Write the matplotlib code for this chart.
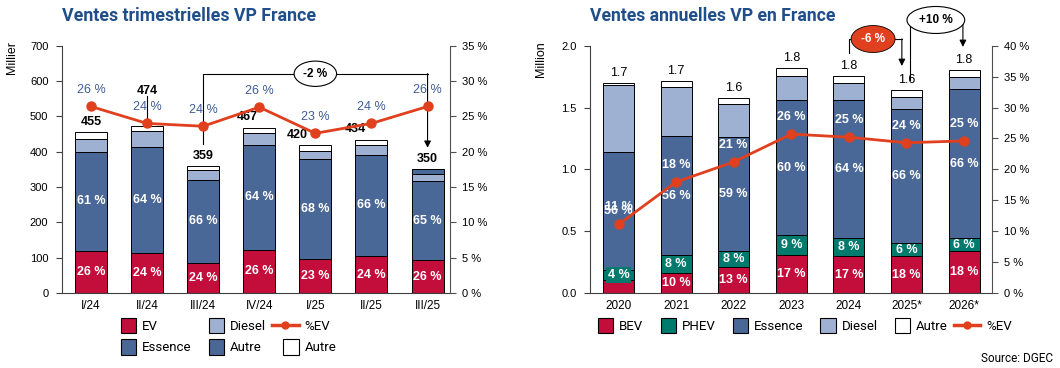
import matplotlib
matplotlib.use('Agg')
import matplotlib.pyplot as plt
import matplotlib.patches as mpatches
from matplotlib.lines import Line2D
from matplotlib.legend_handler import HandlerPatch
from matplotlib.ticker import FuncFormatter
import numpy as np

# --- données trimestrielles (milliers)
quarters = ['I/24', 'II/24', 'III/24', 'IV/24', 'I/25', 'II/25', 'III/25']
q_ev = [120, 114, 84, 123, 95, 104, 92]
q_essence = [280, 300, 237, 297, 285, 288, 226]
q_diesel = [37, 45, 26, 34, 23, 27, 20]
q_autre_bleu = [0, 0, 0, 0, 0, 0, 12]
q_autre = [18, 15, 12, 13, 17, 15, 0]
q_total = [455, 474, 359, 467, 420, 434, 350]
q_ev_pct = [26, 24, 24, 26, 23, 24, 26]
q_ess_pct = [61, 64, 66, 64, 68, 66, 65]
q_share = [26.4, 24.0, 23.6, 26.3, 22.6, 24.0, 26.4]
q_share_lbl = [26, 24, 24, 26, 23, 24, 26]

# --- données annuelles (millions)
years = ['2020', '2021', '2022', '2023', '2024', '2025*', '2026*']
y_bev = [0.105, 0.164, 0.208, 0.305, 0.299, 0.297, 0.337]
y_phev = [0.080, 0.141, 0.129, 0.162, 0.143, 0.105, 0.105]
y_essence = [0.953, 0.965, 0.922, 1.091, 1.116, 1.088, 1.205]
y_diesel = [0.542, 0.393, 0.267, 0.197, 0.138, 0.093, 0.097]
y_autre = [0.016, 0.049, 0.049, 0.062, 0.059, 0.056, 0.062]
y_total_lbl = ['1.7', '1.7', '1.6', '1.8', '1.8', '1.6', '1.8']
y_bev_pct = [None, 10, 13, 17, 17, 18, 18]
y_phev_pct = [4, 8, 8, 9, 8, 6, 6]
y_ess_pct = [56, 56, 59, 60, 64, 66, 66]
y_share = [11.1, 17.95, 21.2, 25.7, 25.2, 24.3, 24.6]
y_share_lbl = [11, 18, 21, 26, 25, 24, 25]

# couleurs
RED = '#C30D3B'
BLUE = '#4A6897'
LBLUE = '#9EB1D2'
TEAL = '#007A6C'
LINE = '#E0401E'
TITLE = '#1F4E8A'
TXTBLUE = '#3E5C96'

plt.rcParams['font.family'] = ['Liberation Sans', 'DejaVu Sans']
LEGFONT = ['Roboto', 'DejaVu Sans']

fig = plt.figure(figsize=(10.6, 3.68), dpi=100)
axL = fig.add_axes([62.3/1060, 75/368, 387.7/1060, 247.3/368])
axR = fig.add_axes([590.3/1060, 75/368, 401.4/1060, 247.3/368])

pct_fmt = FuncFormatter(lambda v, p: '%d %%' % v)


def style_axes(ax, ax2):
    for s in ['top', 'right']:
        ax.spines[s].set_visible(False)
    for s in ['top', 'left', 'bottom']:
        ax2.spines[s].set_visible(False)
    ax.spines['left'].set_color('#404040')
    ax.spines['bottom'].set_color('#404040')
    ax2.spines['right'].set_color('#505050')
    ax.tick_params(axis='x', length=0, pad=5, labelsize=8.5)
    ax.tick_params(axis='y', length=4, pad=6, labelsize=8, color='#404040')
    ax2.tick_params(axis='y', length=4, pad=5, labelsize=8, color='#505050')
    ax2.yaxis.set_major_formatter(pct_fmt)


# ================= gauche : trimestriel =================
x = np.arange(len(quarters))
w = 0.57
ax = axL
b = np.zeros(len(x))
for vals, col in [(q_ev, RED), (q_essence, BLUE), (q_diesel, LBLUE),
                  (q_autre_bleu, BLUE), (q_autre, 'white')]:
    ax.bar(x, vals, w, bottom=b, color=col, edgecolor='black', linewidth=0.7, zorder=2)
    b = b + np.array(vals)

ev_arr = np.array(q_ev)
ess_arr = np.array(q_essence)
for i in range(len(x)):
    ax.text(x[i], ev_arr[i] / 2, '%d %%' % q_ev_pct[i], ha='center', va='center',
            color='white', fontsize=9, fontweight='bold', zorder=3)
    ax.text(x[i], ev_arr[i] + ess_arr[i] / 2, '%d %%' % q_ess_pct[i], ha='center', va='center',
            color='white', fontsize=9, fontweight='bold', zorder=3)

# étiquettes des totaux (décalages en pixels)
tot_off = [(0, 10), (0, 35), (0, 10), (-12, 11), (-18, 10), (-16, 11), (0, 10)]
for i in range(len(x)):
    ax.annotate(str(q_total[i]), (x[i], q_total[i]), xytext=tot_off[i], textcoords='offset pixels',
                ha='center', va='center', fontsize=9, fontweight='bold', zorder=5)

ax.plot([1, 1], [474, 558], color='black', lw=0.8, zorder=4)

ax.set_xlim(-0.51, 6.4)
ax.set_ylim(0, 700)
ax.set_yticks(range(0, 701, 100))
ax.set_xticks(x)
ax.set_xticklabels(quarters)

ax2 = ax.twinx()
ax2.set_ylim(0, 35)
ax2.set_yticks(range(0, 36, 5))
ax2.plot(x, q_share, color=LINE, lw=2, marker='o', markersize=6.5, zorder=4)
for i in range(len(x)):
    ax2.annotate('%d %%' % q_share_lbl[i], (x[i], q_share[i]), xytext=(0, 16),
                 textcoords='offset pixels', ha='center', va='center', fontsize=9, color=TXTBLUE)
style_axes(ax, ax2)

# crochet -2 %
ax.plot([2, 2, 6], [423, 620.6, 620.6], color='black', lw=0.8, clip_on=False, zorder=4)
ax.annotate('', xy=(6, 411), xytext=(6, 621), arrowprops=dict(arrowstyle='-|>', color='black',
            lw=0.8, mutation_scale=10, shrinkA=0, shrinkB=0), zorder=4)
ax.text(4, 620.6, '-2 %', ha='center', va='center', fontsize=8.5, fontweight='bold', zorder=5,
        bbox=dict(boxstyle='ellipse,pad=0.25', fc='white', ec='black', lw=0.8))

ax.text(-0.131, 0.954, 'Millier', transform=ax.transAxes, rotation=90, ha='center', va='center',
        fontsize=9)
fig.text(62 / 1060, 1 - 16 / 368, 'Ventes trimestrielles VP France', ha='left', va='center',
         fontsize=12.8, fontweight='bold', color=TITLE, family=LEGFONT)


# ================= droite : annuel =================
xr = np.arange(len(years))
wr = 0.54
ax = axR
b = np.zeros(len(xr))
for vals, col in [(y_bev, RED), (y_phev, TEAL), (y_essence, BLUE), (y_diesel, LBLUE),
                  (y_autre, 'white')]:
    ax.bar(xr, vals, wr, bottom=b, color=col, edgecolor='black', linewidth=0.7, zorder=2)
    b = b + np.array(vals)
tops = b

bev_arr = np.array(y_bev)
phev_arr = np.array(y_phev)
ess_arr = np.array(y_essence)
for i in range(len(xr)):
    if y_bev_pct[i] is not None:
        ax.text(xr[i], bev_arr[i] / 2, '%d %%' % y_bev_pct[i], ha='center', va='center',
                color='white', fontsize=9, fontweight='bold', zorder=3)
    kw = {}
    if i == 0:
        kw['bbox'] = dict(boxstyle='square,pad=0.15', fc=TEAL, ec='none')
    ax.text(xr[i], bev_arr[i] + phev_arr[i] / 2, '%d %%' % y_phev_pct[i], ha='center',
            va='center', color='white', fontsize=9, fontweight='bold', zorder=3, **kw)
    ax.text(xr[i], bev_arr[i] + phev_arr[i] + ess_arr[i] / 2, '%d %%' % y_ess_pct[i],
            ha='center', va='center', color='white', fontsize=9, fontweight='bold', zorder=3)
    ax.annotate(y_total_lbl[i], (xr[i], tops[i]), xytext=(0, 10), textcoords='offset pixels',
                ha='center', va='center', fontsize=9, zorder=5)

ax.set_xlim(-0.49, 6.48)
ax.set_ylim(0, 2.0)
ax.set_yticks([0, 0.5, 1.0, 1.5, 2.0])
ax.yaxis.set_major_formatter(FuncFormatter(lambda v, p: '%.1f' % v))
ax.set_xticks(xr)
ax.set_xticklabels(years)

ax2 = ax.twinx()
ax2.set_ylim(0, 40)
ax2.set_yticks(range(0, 41, 5))
ax2.plot(xr, y_share, color=LINE, lw=2, marker='o', markersize=6.5, zorder=4)
for i in range(len(xr)):
    ax2.annotate('%d %%' % y_share_lbl[i], (xr[i], y_share[i]), xytext=(0, 17),
                 textcoords='offset pixels', ha='center', va='center', fontsize=9,
                 color='white', fontweight='bold')
style_axes(ax, ax2)

# crochet -6 %
ax.plot([4, 4, 4.92], [1.941, 2.054, 2.054], color='black', lw=0.8, clip_on=False, zorder=4)
ax.annotate('', xy=(4.92, 1.836), xytext=(4.92, 2.055), annotation_clip=False,
            arrowprops=dict(arrowstyle='-|>', color='black', lw=0.8, mutation_scale=10,
                            shrinkA=0, shrinkB=0), zorder=4)
ax.text(4.42, 2.054, '-6 %', ha='center', va='center', fontsize=8.5, fontweight='bold',
        color='white', zorder=5, clip_on=False,
        bbox=dict(boxstyle='ellipse,pad=0.3', fc=LINE, ec='black', lw=0.6))
# crochet +10 %
ax.plot([5.06, 5.06, 5.98], [1.72, 2.208, 2.208], color='black', lw=0.8, clip_on=False, zorder=4)
ax.annotate('', xy=(5.98, 1.99), xytext=(5.98, 2.209), annotation_clip=False,
            arrowprops=dict(arrowstyle='-|>', color='black', lw=0.8, mutation_scale=10,
                            shrinkA=0, shrinkB=0), zorder=4)
ax.text(5.51, 2.208, '+10 %', ha='center', va='center', fontsize=8.5, fontweight='bold',
        zorder=5, clip_on=False,
        bbox=dict(boxstyle='ellipse,pad=0.3', fc='white', ec='black', lw=0.8))

ax.text(-0.1216, 0.946, 'Million', transform=ax.transAxes, rotation=90, ha='center',
        va='center', fontsize=9)
fig.text(590 / 1060, 1 - 16 / 368, 'Ventes annuelles VP en France', ha='left', va='center',
         fontsize=12.7, fontweight='bold', color=TITLE, family=LEGFONT)


# ================= légendes =================
def square(legend, orig_handle, xdescent, ydescent, width, height, fontsize):
    s = height * 1.3
    return mpatches.Rectangle((-xdescent + width - s, -ydescent - (s - height) / 2), s, s)


def sq(col):
    return mpatches.Patch(facecolor=col, edgecolor='black', linewidth=0.8)


line_h = Line2D([], [], color=LINE, lw=2.5, marker='o', markersize=5)
hmap = {mpatches.Patch: HandlerPatch(patch_func=square)}

hL = [sq(RED), sq(BLUE), sq(LBLUE), sq(BLUE), line_h, sq('white')]
lL = ['EV', 'Essence', 'Diesel', 'Autre', '%EV', 'Autre']
fig.legend(hL, lL, ncol=3, loc='center left', bbox_to_anchor=(110 / 1060, 1 - 337 / 368),
           frameon=False, handler_map=hmap, prop={'family': LEGFONT, 'size': 9.5},
           handlelength=2.0, handleheight=1.0, handletextpad=0.45, columnspacing=0.45,
           labelspacing=0.6, borderpad=0, borderaxespad=0)

hR = [sq(RED), sq(TEAL), sq(BLUE), sq(LBLUE), sq('white'), line_h]
lR = ['BEV', 'PHEV', 'Essence', 'Diesel', 'Autre', '%EV']
fig.legend(hR, lR, ncol=6, loc='center left', bbox_to_anchor=(587 / 1060, 1 - 326 / 368),
           frameon=False, handler_map=hmap, prop={'family': LEGFONT, 'size': 9.5},
           handlelength=2.0, handleheight=1.0, handletextpad=0.45, columnspacing=0.45,
           borderpad=0, borderaxespad=0)

fig.text(1053 / 1060, 1 - 358 / 368, 'Source: DGEC', ha='right', va='center', fontsize=8.5,
         family=LEGFONT)

fig.savefig('out.png', dpi=100)
